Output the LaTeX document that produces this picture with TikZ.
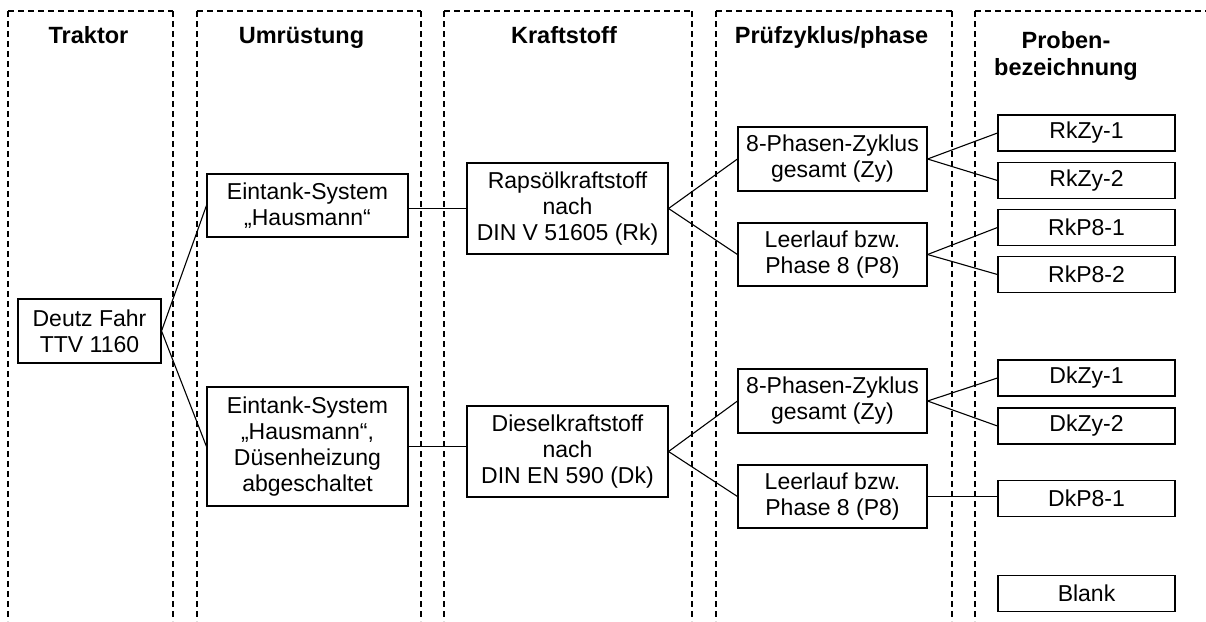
\documentclass[tikz,border=0pt]{standalone}
\usepackage{fontspec}
\setmainfont{Liberation Sans}
\begin{document}
\begin{tikzpicture}[x=1pt,y=-1pt,
  box/.style={draw, line width=1.1pt, align=center, inner sep=0pt,
    font=\fontsize{23}{26}\selectfont},
  smallbox/.style={box, minimum width=177pt, minimum height=36pt},
  head/.style={font=\fontsize{23.5}{27}\selectfont\bfseries, inner sep=0pt, align=center},
  col/.style={line width=1.6pt, dash pattern=on 6pt off 4pt},
  conn/.style={line width=1.1pt}]
\useasboundingbox (0,0) rectangle (1206,621);
% columns
\foreach \l/\r in {8/173,197/421,444/692,716/952}{
  \draw[col] (\l,11) -- (\l,621);
  \draw[col] (\l,11) -- (\r,11);
  \draw[col] (\r,11) -- (\r,621);
}
\draw[col] (975,11) -- (975,621);
\draw[col] (975,11) -- (1206,11);
% headers
\node[head, anchor=base] (h1) at (88.5,43) {Traktor};
\node[head, anchor=base] (h2) at (301.5,43) {Umrüstung};
\node[head, anchor=base] (h3) at (564,43) {Kraftstoff};
\node[head, anchor=base] (h4) at (831.5,43) {Prüfzyklus/phase};
\node[head, anchor=north] (h5) at (1066,31) {Proben-\\bezeichnung};
% boxes
\node[box, minimum width=143pt, minimum height=64pt] (deutz) at (89.5,331) {Deutz Fahr\\TTV 1160};
\node[box, minimum width=201pt, minimum height=63pt] (e1) at (307.5,205.5) {Eintank-System\\„Hausmann“};
\node[box, minimum width=201pt, minimum height=119pt] (e2) at (307.5,446.5) {Eintank-System\\„Hausmann“,\\Düsenheizung\\abgeschaltet};
\node[box, minimum width=201pt, minimum height=91pt] (rk) at (567.5,208.5) {Rapsölkraftstoff\\nach\\DIN V 51605 (Rk)};
\node[box, minimum width=201pt, minimum height=91pt] (dk) at (567.5,451.5) {Dieselkraftstoff\\nach\\DIN EN 590 (Dk)};
\node[box, minimum width=189pt, minimum height=64pt] (zy1) at (832.5,159) {8-Phasen-Zyklus\\gesamt (Zy)};
\node[box, minimum width=189pt, minimum height=63pt] (p81) at (832.5,254.5) {Leerlauf bzw.\\Phase 8 (P8)};
\node[box, minimum width=189pt, minimum height=64pt] (zy2) at (832.5,401) {8-Phasen-Zyklus\\gesamt (Zy)};
\node[box, minimum width=189pt, minimum height=63pt] (p82) at (832.5,496.5) {Leerlauf bzw.\\Phase 8 (P8)};
\node[smallbox] (rz1) at (1086.5,133) {RkZy-1};
\node[smallbox] (rz2) at (1086.5,180.5) {RkZy-2};
\node[smallbox] (rp1) at (1086.5,227.5) {RkP8-1};
\node[smallbox] (rp2) at (1086.5,274.5) {RkP8-2};
\node[smallbox] (dz1) at (1086.5,378) {DkZy-1};
\node[smallbox] (dz2) at (1086.5,426) {DkZy-2};
\node[smallbox] (dp1) at (1086.5,498.5) {DkP8-1};
\node[smallbox] (bl) at (1086.5,593.5) {Blank};
% connectors
\draw[conn] (deutz.east) -- (e1.west);
\draw[conn] (deutz.east) -- (e2.west);
\draw[conn] (rk.west -| e1.east) -- (rk.west);
\draw[conn] (e2.east) -- (e2.east -| dk.west);
\draw[conn] (rk.east) -- (zy1.west);
\draw[conn] (rk.east) -- (p81.west);
\draw[conn] (dk.east) -- (zy2.west);
\draw[conn] (dk.east) -- (p82.west);
\draw[conn] (zy1.east) -- (rz1.west);
\draw[conn] (zy1.east) -- (rz2.west);
\draw[conn] (p81.east) -- (rp1.west);
\draw[conn] (p81.east) -- (rp2.west);
\draw[conn] (zy2.east) -- (dz1.west);
\draw[conn] (zy2.east) -- (dz2.west);
\draw[conn] (p82.east) -- (p82.east -| dp1.west);
\end{tikzpicture}
\end{document}
